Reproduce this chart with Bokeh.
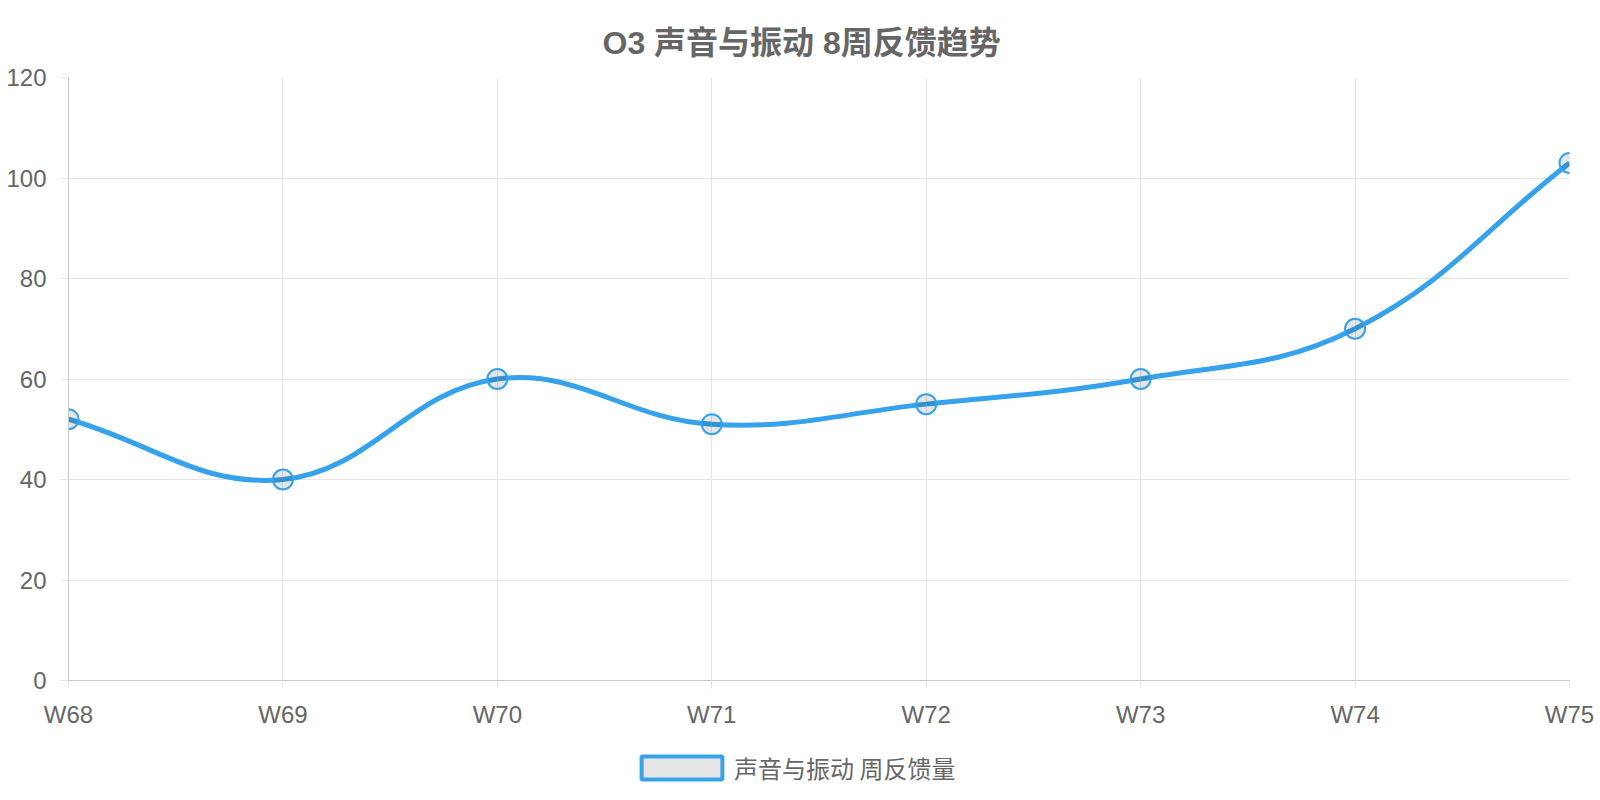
import numpy as np
from bokeh.plotting import figure
from bokeh.layouts import column
from bokeh.models import ColumnDataSource, Legend, LegendItem, FixedTicker, Range1d, Title
from bokeh.embed import file_html
from bokeh.resources import INLINE

# ---- data ----
weeks = ["W68", "W69", "W70", "W71", "W72", "W73", "W74", "W75"]
feedback = [52, 40, 60, 51, 55, 60, 70, 103]
y_ticks = [0, 20, 40, 60, 80, 100, 120]
title_text = "O3 声音与振动 8周反馈趋势"
series_label = "声音与振动 周反馈量"

BLUE = "#36a2eb"
GRID = "#e5e5e5"
AXIS = "#c8c8c8"
TEXT = "#666666"
CJK = "Noto Sans CJK SC"
LAT = "Liberation Sans"

W = 1596
H1 = 735
ML, MR, MT = 68, 27, 77
MB = H1 - 680
frame_w = W - ML - MR
frame_h = H1 - MT - MB

p = figure(width=W, height=H1, output_backend="svg", toolbar_location=None,
           x_range=Range1d(0, len(weeks) - 1), y_range=Range1d(0, 120),
           min_border_left=ML, min_border_right=MR, min_border_top=MT, min_border_bottom=MB)
p.outline_line_color = None
p.background_fill_color = "white"
p.border_fill_color = "white"

t = Title(text=title_text, align="left", offset=534,
          text_font="Liberation Sans, Noto Sans CJK SC",
          text_font_size="32px", text_font_style="bold", text_color=TEXT, standoff=34)
p.add_layout(t, "above")

# ---- spline control points (Chart.js style, tension 0.4) ----
xs = np.arange(len(weeks), dtype=float)
ys = np.array(feedback, dtype=float)
sx = frame_w / (len(weeks) - 1)
sy = frame_h / 120.0
tension = 0.4
n = len(xs)
cpp_x = np.zeros(n); cpp_y = np.zeros(n); cpn_x = np.zeros(n); cpn_y = np.zeros(n)
for i in range(n):
    ip = max(i - 1, 0); inx = min(i + 1, n - 1)
    d01 = np.hypot((xs[i] - xs[ip]) * sx, (ys[i] - ys[ip]) * sy)
    d12 = np.hypot((xs[inx] - xs[i]) * sx, (ys[inx] - ys[i]) * sy)
    tot = d01 + d12
    s01 = d01 / tot if tot else 0
    s12 = d12 / tot if tot else 0
    fa = tension * s01; fb = tension * s12
    cpp_x[i] = xs[i] - fa * (xs[inx] - xs[ip]); cpp_y[i] = ys[i] - fa * (ys[inx] - ys[ip])
    cpn_x[i] = xs[i] + fb * (xs[inx] - xs[ip]); cpn_y[i] = ys[i] + fb * (ys[inx] - ys[ip])
cpp_x = np.clip(cpp_x, 0, n - 1); cpn_x = np.clip(cpn_x, 0, n - 1)
cpp_y = np.clip(cpp_y, 0, 120); cpn_y = np.clip(cpn_y, 0, 120)

seg = ColumnDataSource(dict(x0=xs[:-1], y0=ys[:-1], x1=xs[1:], y1=ys[1:],
                            cx0=cpn_x[:-1], cy0=cpn_y[:-1], cx1=cpp_x[1:], cy1=cpp_y[1:]))
p.bezier(x0="x0", y0="y0", x1="x1", y1="y1", cx0="cx0", cy0="cy0", cx1="cx1", cy1="cy1",
         source=seg, line_color=BLUE, line_width=5)

pts = ColumnDataSource(dict(x=xs, y=ys))
p.scatter("x", "y", source=pts, size=20, fill_color="black", fill_alpha=0.1,
          line_color=BLUE, line_width=2)

# axes
p.xaxis.ticker = FixedTicker(ticks=list(range(len(weeks))))
p.xaxis.major_label_overrides = {i: w for i, w in enumerate(weeks)}
p.yaxis.ticker = FixedTicker(ticks=y_ticks)
for ax in (p.xaxis, p.yaxis):
    ax.axis_line_color = AXIS
    ax.major_tick_line_color = GRID
    ax.major_tick_out = 8
    ax.major_tick_in = 0
    ax.minor_tick_line_color = None
    ax.major_label_text_font = LAT
    ax.major_label_text_font_size = "24px"
    ax.major_label_text_color = TEXT
p.xaxis.major_label_standoff = 12
p.yaxis.major_label_standoff = 14

p.xgrid.ticker = FixedTicker(ticks=list(range(len(weeks))))
p.ygrid.ticker = FixedTicker(ticks=y_ticks)
p.grid.grid_line_color = GRID
p.grid.grid_line_width = 1

# ---- legend strip ----
H2 = 57
lg = figure(width=W, height=H2, output_backend="svg", toolbar_location=None,
            x_range=Range1d(0, 1), y_range=Range1d(0, 1),
            min_border_left=0, min_border_right=0, min_border_top=0, min_border_bottom=0)
lg.axis.visible = False
lg.grid.visible = False
lg.outline_line_color = None
lg.border_fill_color = "white"
proxy_src = ColumnDataSource(dict(x=[np.nan], y=[np.nan]))
proxy = lg.rect(x="x", y="y", width=1, height=1, source=proxy_src, fill_color="black",
                fill_alpha=0.1, line_color=BLUE, line_width=4)
leg = Legend(items=[LegendItem(label=series_label, renderers=[proxy])],
             orientation="horizontal", location=(563, 7),
             glyph_width=101, glyph_height=29, label_text_font=CJK,
             label_text_font_size="24px", label_text_color=TEXT, label_standoff=2,
             border_line_color=None, background_fill_alpha=0, padding=0, margin=0,
             label_height=29, spacing=0)
lg.add_layout(leg, "center")

layout = column(p, lg, spacing=0)
open("out.html", "w").write(file_html(layout, INLINE))
